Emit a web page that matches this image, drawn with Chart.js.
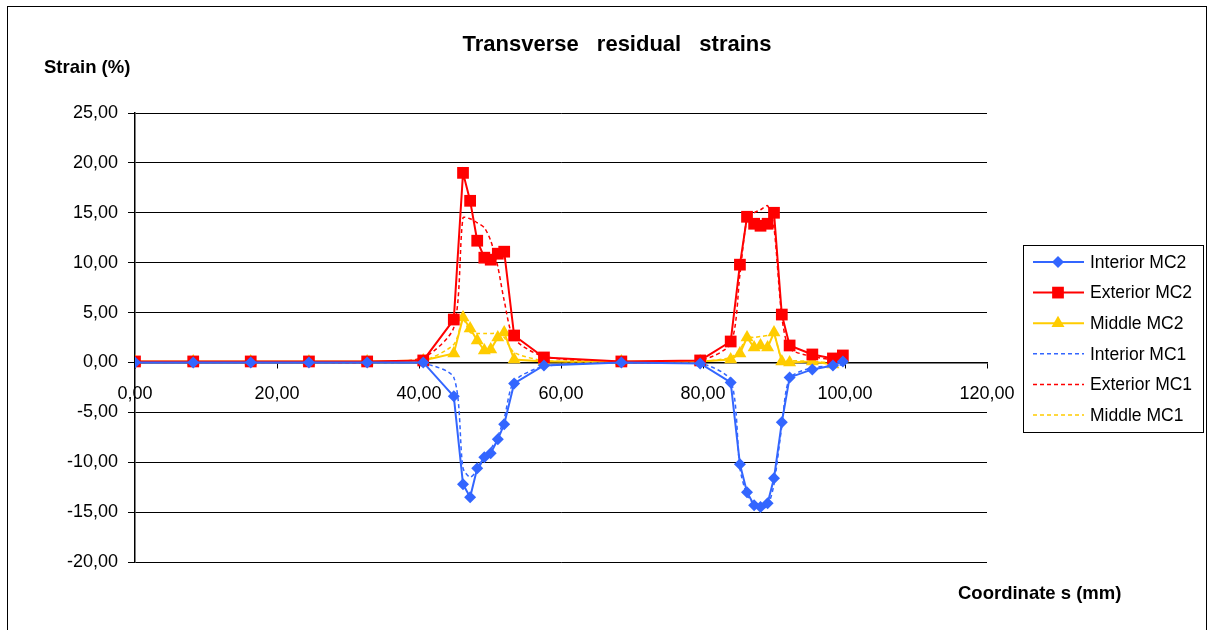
<!DOCTYPE html>
<html>
<head>
<meta charset="utf-8">
<title>Transverse residual strains</title>
<script src="https://cdn.jsdelivr.net/npm/chart.js@4/dist/chart.umd.min.js"></script>
<style>
  html, body { margin: 0; padding: 0; background: #fff; }
  #wrap { position: relative; width: 1208px; height: 630px; }
  canvas { display: block; }
</style>
</head>
<body>
<div id="wrap"><canvas id="chart" width="1208" height="630"></canvas></div>
<script>
// Coordinate s (mm) of the measuring points
const coordS = [0, 8.2, 16.3, 24.5, 32.7, 40.6, 44.9, 46.2, 47.2, 48.2, 49.2, 50.1, 51.1, 52.0, 53.4, 57.6, 68.5,
  79.6, 83.9, 85.2, 86.2, 87.2, 88.1, 89.1, 90.0, 91.1, 92.2, 95.4, 98.3, 99.7];

// Strain (%) per series
const interiorMC2 = [0, 0, 0, 0, 0, 0.0, -3.4, -12.2, -13.5, -10.6, -9.5, -9.1, -7.7, -6.2, -2.1, -0.3, 0.0,
  -0.1, -2.0, -10.2, -13.0, -14.3, -14.5, -14.1, -11.6, -6.0, -1.5, -0.7, -0.3, 0.1];
const exteriorMC2 = [0.1, 0.1, 0.1, 0.1, 0.1, 0.2, 4.3, 19.0, 16.2, 12.2, 10.5, 10.3, 10.9, 11.1, 2.7, 0.5, 0.1,
  0.2, 2.1, 9.8, 14.6, 13.9, 13.7, 13.9, 15.0, 4.8, 1.7, 0.8, 0.4, 0.7];
const middleMC2 = [0.1, 0.1, 0.1, 0.1, 0.1, 0.2, 0.9, 4.5, 3.4, 2.2, 1.2, 1.3, 2.5, 3.0, 0.3, 0.1, 0.1,
  0.1, 0.3, 0.9, 2.5, 1.5, 1.7, 1.5, 3.0, 0.1, 0.0, 0.1, -0.2, 0.4];
const interiorMC1 = [0, 0, 0, 0, 0, -0.1, -1.5, -10.6, -11.5, -10.8, -9.6, -8.7, -7.4, -5.6, -1.9, -0.4, 0.0,
  -0.1, -1.8, -10.6, -13.3, -14.2, -14.6, -14.4, -12.2, -6.4, -1.6, -0.5, -0.4, -0.2];
const exteriorMC1 = [0, 0, 0, 0, 0, 0.5, 3.5, 14.5, 14.4, 14.0, 13.5, 12.2, 9.6, 6.2, 2.4, 0.6, 0.0,
  0.2, 1.9, 8.8, 14.4, 15.0, 15.3, 15.7, 13.5, 4.6, 1.4, 0.6, 0.3, 0.5];
const middleMC1 = [0, 0, 0, 0, 0, 0.2, 1.8, 4.3, 3.0, 2.9, 2.9, 2.9, 2.9, 2.5, 1.0, 0.2, 0.0,
  0.1, 0.5, 1.3, 2.5, 2.5, 2.6, 2.7, 2.8, 0.3, 0.2, 0.1, 0.0, 0.3];

// Axis ranges and titles
const xTicks = [0, 20, 40, 60, 80, 100, 120];
const yTicks = [-20, -15, -10, -5, 0, 5, 10, 15, 20, 25];
const chartTitle = 'Transverse residual strains';
const yTitle = 'Strain (%)';
const xTitle = 'Coordinate s (mm)';

const BLUE = '#3366FF', RED = '#FF0000', YELLOW = '#FFCC00';
const FONT = "'Liberation Sans', Arial, Helvetica, sans-serif";

const pts = (ys) => coordS.map((x, i) => ({ x: x, y: ys[i] }));

function solid(label, ys, color, style, radius) {
  return {
    label, data: pts(ys), borderColor: color, backgroundColor: color,
    borderWidth: 2, pointStyle: style, pointRadius: radius, pointHoverRadius: radius,
    pointBorderWidth: 0, tension: 0
  };
}
function dashed(label, ys, color) {
  return {
    label, data: pts(ys), borderColor: color, backgroundColor: color,
    borderWidth: 1.5, borderDash: [4, 3], pointRadius: 0, pointHoverRadius: 0, tension: 0.25
  };
}

const fmt = (v) => Number(v).toFixed(2).replace('.', ',');

// Frame, titles and legend are painted on the canvas around the plot area
const decorations = {
  id: 'decorations',
  beforeDraw(chart) {
    const ctx = chart.ctx;
    ctx.save();
    ctx.fillStyle = '#fff';
    ctx.fillRect(0, 0, chart.width, chart.height);
    ctx.strokeStyle = '#000';
    ctx.lineWidth = 1;
    ctx.strokeRect(7.5, 6.5, 1199, 700);
    ctx.restore();
  },
  afterDraw(chart) {
    const ctx = chart.ctx;
    ctx.save();
    ctx.fillStyle = '#000';
    ctx.textBaseline = 'alphabetic';
    // title
    ctx.font = 'bold 22px ' + FONT;
    ctx.textAlign = 'center';
    if ('wordSpacing' in ctx) ctx.wordSpacing = '12px';
    ctx.fillText(chartTitle, 617, 51);
    if ('wordSpacing' in ctx) ctx.wordSpacing = '0px';
    // axis titles
    ctx.font = 'bold 18.5px ' + FONT;
    ctx.textAlign = 'left';
    ctx.fillText(yTitle, 44, 73);
    ctx.fillText(xTitle, 958, 599);

    // legend
    const lx = 1023.5, ly = 245.5, lw = 180, lh = 187;
    ctx.fillStyle = '#fff';
    ctx.fillRect(lx, ly, lw, lh);
    ctx.strokeStyle = '#000';
    ctx.lineWidth = 1;
    ctx.strokeRect(lx, ly, lw, lh);
    ctx.font = '17.5px ' + FONT;
    ctx.textBaseline = 'middle';
    chart.data.datasets.forEach((ds, i) => {
      const cy = 262 + i * 30.6;
      ctx.save();
      ctx.strokeStyle = ds.borderColor;
      ctx.lineWidth = ds.borderWidth;
      ctx.setLineDash(ds.borderDash || []);
      ctx.beginPath();
      ctx.moveTo(1033, cy);
      ctx.lineTo(1084, cy);
      ctx.stroke();
      ctx.restore();
      if (ds.pointRadius > 0) {
        ctx.save();
        ctx.fillStyle = ds.backgroundColor;
        ctx.strokeStyle = ds.borderColor;
        Chart.helpers.drawPoint(ctx, {
          pointStyle: ds.pointStyle, radius: ds.pointRadius, rotation: 0, borderWidth: 0
        }, 1058, cy);
        ctx.restore();
      }
      ctx.fillStyle = '#000';
      ctx.textAlign = 'left';
      ctx.fillText(ds.label, 1090, cy + 1);
    });
    ctx.restore();
  }
};

new Chart(document.getElementById('chart'), {
  type: 'line',
  data: {
    datasets: [
      solid('Interior MC2', interiorMC2, BLUE, 'rectRot', 6),
      solid('Exterior MC2', exteriorMC2, RED, 'rect', 8.3),
      solid('Middle MC2', middleMC2, YELLOW, 'triangle', 7.5),
      dashed('Interior MC1', interiorMC1, BLUE),
      dashed('Exterior MC1', exteriorMC1, RED),
      dashed('Middle MC1', middleMC1, YELLOW)
    ]
  },
  options: {
    responsive: false,
    animation: false,
    events: [],
    layout: { padding: { left: 0, top: 113, right: 221, bottom: 68 } },
    plugins: { legend: { display: false }, title: { display: false }, tooltip: { enabled: false } },
    scales: {
      x: {
        type: 'linear',
        position: { y: 0 },
        min: xTicks[0], max: xTicks[xTicks.length - 1],
        afterBuildTicks: (s) => { s.ticks = xTicks.map(v => ({ value: v })); },
        ticks: {
          callback: fmt, color: '#000', padding: 16, maxRotation: 0, autoSkip: false,
          font: { family: FONT, size: 18 }
        },
        grid: { drawOnChartArea: false, drawTicks: true, tickLength: 5, color: '#000' },
        border: { display: true, color: '#000', width: 1.5 }
      },
      y: {
        type: 'linear',
        position: 'left',
        min: yTicks[0], max: yTicks[yTicks.length - 1],
        afterBuildTicks: (s) => { s.ticks = yTicks.map(v => ({ value: v })); },
        afterFit: (s) => { s.width = 135; },
        ticks: {
          callback: fmt, color: '#000', padding: 10,
          font: { family: FONT, size: 18 }
        },
        grid: { color: '#000', lineWidth: 1, drawTicks: true, tickLength: 7 },
        border: { display: true, color: '#000', width: 1.5 }
      }
    }
  },
  plugins: [decorations]
});
</script>
</body>
</html>
